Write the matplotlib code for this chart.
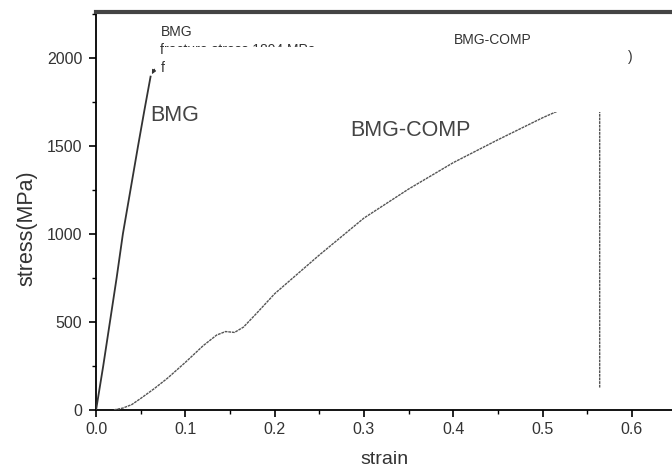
import matplotlib
matplotlib.use("Agg")
import matplotlib.pyplot as plt
from matplotlib.patches import Rectangle
from matplotlib.ticker import MultipleLocator, FormatStrFormatter

plt.rcParams['font.family'] = ['Liberation Sans', 'DejaVu Sans']

# BMG curve (strain, stress MPa)
bmg_strain = [0.0, 0.008, 0.0155, 0.023, 0.030, 0.0385, 0.047, 0.054, 0.061]
bmg_stress = [0, 250, 500, 750, 1000, 1250, 1500, 1700, 1894]

# BMG-COMP curve
comp_strain = [0.02, 0.03, 0.04, 0.05, 0.065, 0.08, 0.1, 0.12, 0.135, 0.145, 0.155,
               0.165, 0.18, 0.2, 0.25, 0.3, 0.35, 0.4, 0.45, 0.5, 0.52, 0.545, 0.564, 0.564]
comp_stress = [0, 10, 30, 65, 120, 180, 270, 365, 425, 445, 440,
               470, 550, 660, 880, 1090, 1255, 1405, 1535, 1660, 1705, 1730, 1745, 125]

fig = plt.figure(figsize=(6.72, 4.70), dpi=100)
ax = fig.add_axes([0.143, 0.128, 0.857, 0.846])

ax.plot(bmg_strain, bmg_stress, color='#333333', lw=1.3, zorder=3)
ax.plot(comp_strain, comp_stress, color='#555555', lw=1.0, ls=(0, (2, 0.6)), zorder=3)

ax.set_xlim(0, 0.645)
ax.set_ylim(0, 2260)
ax.xaxis.set_major_locator(MultipleLocator(0.1))
ax.xaxis.set_minor_locator(MultipleLocator(0.05))
ax.yaxis.set_major_locator(MultipleLocator(500))
ax.yaxis.set_minor_locator(MultipleLocator(250))
ax.tick_params(which='major', direction='out', length=5, width=1.2, labelsize=11.5,
               labelcolor='#333333')
ax.tick_params(axis='y', which='major', pad=5)
ax.tick_params(which='minor', direction='out', length=3, width=1.0)
ax.xaxis.set_major_formatter(FormatStrFormatter('%.1f'))

ax.spines['right'].set_visible(False)
ax.spines['top'].set_linewidth(3)
ax.spines['top'].set_color('#444444')
ax.spines['left'].set_linewidth(1.3)
ax.spines['bottom'].set_linewidth(1.3)

ax.set_xlabel('strain', fontsize=14, color='#333333', labelpad=10)
ax.set_ylabel('stress(MPa)', fontsize=15.5, color='#333333')
ax.yaxis.set_label_coords(-0.101, 0.457)

# legend-like text partly covered by a white box (as in the source image)
small = dict(fontsize=10, color='#333333', va='center', zorder=4)
ax.text(0.072, 2145, 'BMG', **small)
ax.text(0.072, 2045, 'fracture stress 1894 MPa', **small)
ax.text(0.072, 1943, 'f', **small)
ax.text(0.401, 2102, 'BMG-COMP', **small)
ax.text(0.596, 2006, ')', **small)
ax.add_patch(Rectangle((0.0775, 1693), 0.51, 370, facecolor='white',
                       edgecolor='none', zorder=5))
ax.annotate('', xy=(0.061, 1894), xytext=(0.067, 1950),
            arrowprops=dict(arrowstyle='-|>', color='#333333', lw=0.8,
                            mutation_scale=6), zorder=4)

big = dict(fontsize=15.5, color='#444444', va='center', zorder=6)
ax.text(0.0607, 1672, 'BMG', **big)
ax.text(0.285, 1585, 'BMG-COMP', **big)

fig.savefig('out.png', dpi=100)
